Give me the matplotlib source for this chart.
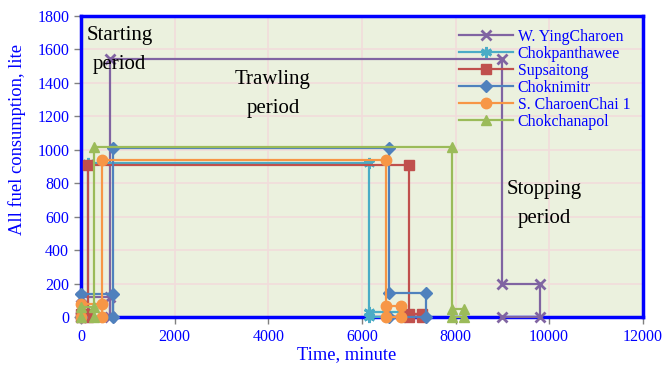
import matplotlib
matplotlib.use("Agg")
import matplotlib.pyplot as plt

# ---- data (time in minutes, fuel in litres) ----
names = ["W. YingCharoen", "Chokpanthawee", "Supsaitong", "Choknimitr",
         "S. CharoenChai 1", "Chokchanapol"]

ying_t = [0, 0, 620, 620, 620, 9000, 9000, 9800, 9800, 9000]
ying_v = [0, 120, 120, 0, 1540, 1540, 200, 200, 0, 0]

panth_t = [0, 0, 150, 150, 150, 6150, 6150, 6900, 6900, 6150]
panth_v = [0, 30, 30, 0, 920, 920, 30, 30, 0, 0]

sups_t = [0, 0, 150, 150, 150, 7000, 7000, 7280, 7280, 7000]
sups_v = [0, 20, 20, 0, 910, 910, 15, 15, 0, 0]

chokn_t = [0, 0, 690, 690, 690, 6580, 6580, 7370, 7370, 6580]
chokn_v = [0, 135, 135, 0, 1010, 1010, 145, 145, 0, 0]

charoen_t = [0, 0, 440, 440, 440, 6510, 6510, 6830, 6830, 6510]
charoen_v = [0, 80, 80, 0, 940, 940, 65, 65, 0, 0]

chokc_t = [0, 0, 280, 280, 280, 7920, 7920, 8180, 8180, 7920]
chokc_v = [0, 60, 60, 0, 1015, 1015, 50, 50, 0, 0]

series_t = [ying_t, panth_t, sups_t, chokn_t, charoen_t, chokc_t]
series_v = [ying_v, panth_v, sups_v, chokn_v, charoen_v, chokc_v]

colors = ["#8064A2", "#4BACC6", "#C0504D", "#4F81BD", "#F79646", "#9BBB59"]
markers = ["x", (6, 2, 0), "s", "D", "o", "^"]
msizes = [7, 8, 7, 6, 7.5, 7.5]

x_ticks = [0, 2000, 4000, 6000, 8000, 10000, 12000]
y_ticks = [0, 200, 400, 600, 800, 1000, 1200, 1400, 1600, 1800]

annotations = [("Starting\nperiod", 830, 1595),
               ("Trawling\nperiod", 4100, 1335),
               ("Stopping\nperiod", 9900, 675)]

# ---- plot ----
plt.rcParams['font.family'] = ['Liberation Serif', 'DejaVu Serif']
blue = "#0000FF"

fig = plt.figure(figsize=(6.64, 3.65), dpi=100)
ax = fig.add_axes([0.122, 0.1315, 0.846, 0.825])
ax.set_facecolor("#EBF1DE")

for name, t, v, c, m, ms in zip(names, series_t, series_v, colors, markers, msizes):
    mew = 2 if m in ("x", (6, 2, 0)) else 1
    ax.plot(t, v, color=c, lw=1.6, marker=m, markersize=ms, markeredgewidth=mew,
            markerfacecolor=c, markeredgecolor=c, label=name, clip_on=False, zorder=3)

ax.set_xlim(0, 12000)
ax.set_ylim(0, 1800)
ax.set_xticks(x_ticks)
ax.set_yticks(y_ticks)
ax.grid(True, color="#F2DCDB", lw=1.2, zorder=0)
ax.set_axisbelow(True)

for s in ax.spines.values():
    s.set_color(blue)
    s.set_linewidth(2.5)

ax.tick_params(axis='both', colors="#808080", labelcolor=blue, labelsize=11.5,
               length=5, width=1, direction='out')

ax.set_xlabel("Time, minute", color=blue, fontsize=13.3)
ax.xaxis.set_label_coords((347 - 81) / 562, -0.097)
ax.set_ylabel("All fuel consumption, lite", color=blue, fontsize=13.3)
ax.yaxis.set_label_coords(-0.098, (317 - 140) / 301)

for txt, x, y in annotations:
    ax.text(x, y, txt, ha='center', va='center', fontsize=15, color='black',
            linespacing=1.7, zorder=4)

leg = ax.legend(loc='upper left', bbox_to_anchor=(459 / 664, 1 - 29 / 365),
                bbox_transform=fig.transFigure, frameon=False, fontsize=11.4,
                handlelength=3.4, handletextpad=0.3, labelspacing=0.06,
                borderaxespad=0, borderpad=0)
for t in leg.get_texts():
    t.set_color(blue)

fig.savefig("out.png", dpi=100)
